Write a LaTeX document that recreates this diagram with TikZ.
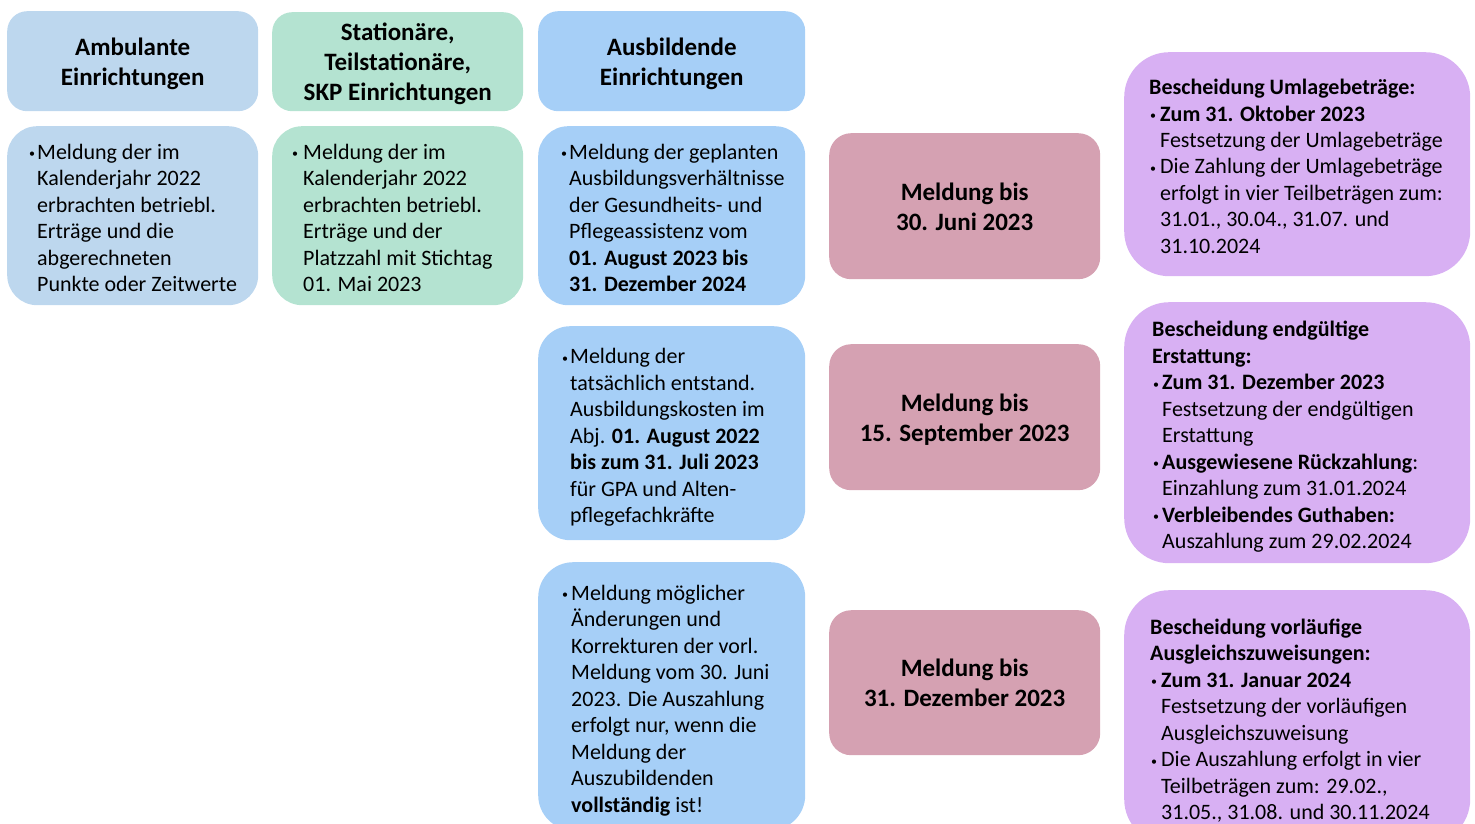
\documentclass[tikz,border=0pt]{standalone}
\usepackage{fontspec}
\setmainfont{Carlito}
\definecolor{cA}{HTML}{BDD7EE}
\definecolor{cB}{HTML}{B4E3D1}
\definecolor{cC}{HTML}{A6CFF7}
\definecolor{cP}{HTML}{D5A1B2}
\definecolor{cV}{HTML}{D8B0F3}
\newcommand\bul[1]{\makebox[#1][l]{\raisebox{1.5pt}{\fontsize{12}{12}\selectfont\textbullet}}}
\newcommand\bodyfnt{\fontsize{22}{26.5}\selectfont}
\newcommand\headfnt{\fontsize{25}{30}\selectfont\bfseries}
\begin{document}
\begin{tikzpicture}[x=1pt,y=-1pt,
  boxbase/.style={draw=none, inner sep=0pt, anchor=north west},
  txt/.style={inner sep=0pt, anchor=west, text=black, font=\bodyfnt, yshift=-4.5pt},
  ctxt/.style={inner sep=0pt, anchor=center, text=black, font=\headfnt, yshift=-3pt}
]
\clip (0,0) rectangle (1475,824);
% header boxes
\node[boxbase, fill=cA, rounded corners=20pt, minimum width=251pt, minimum height=100pt] (ah) at (7,11) {};
\node[boxbase, fill=cB, rounded corners=20pt, minimum width=251pt, minimum height=99pt] (bh) at (272,12) {};
\node[boxbase, fill=cC, rounded corners=20pt, minimum width=267pt, minimum height=100pt] (ch) at (538,11) {};
\node[ctxt] (aht) at (ah.center) {\begin{tabular}{@{}c@{}}Ambulante\\Einrichtungen\end{tabular}};
\node[ctxt] (bht) at (bh.center) {\begin{tabular}{@{}c@{}}Stationäre,\\Teilstationäre,\\SKP Einrichtungen\end{tabular}};
\node[ctxt] (cht) at (ch.center) {\begin{tabular}{@{}c@{}}Ausbildende\\Einrichtungen\end{tabular}};
% body boxes
\node[boxbase, fill=cA, rounded corners=30pt, minimum width=251pt, minimum height=179pt] (ab) at (7,126) {};
\node[boxbase, fill=cB, rounded corners=30pt, minimum width=251pt, minimum height=179pt] (bb) at (272,126) {};
\node[boxbase, fill=cC, rounded corners=30pt, minimum width=267pt, minimum height=179pt] (c1) at (538,126) {};
\node[boxbase, fill=cC, rounded corners=32pt, minimum width=267pt, minimum height=214pt] (c2) at (538,326) {};
\node[boxbase, fill=cC, rounded corners=35pt, minimum width=267pt, minimum height=268pt] (c3) at (538,562) {};
\node[txt] (abt) at ([xshift=22pt]ab.west) {\begin{tabular}{@{}l@{}l@{}}
\bul{8pt}&Meldung der im\\
&Kalenderjahr 2022\\
&erbrachten betriebl.\\
&Erträge und die\\
&abgerechneten\\
&Punkte oder Zeitwerte
\end{tabular}};
\node[txt] (bbt) at ([xshift=20pt]bb.west) {\begin{tabular}{@{}l@{}l@{}}
\bul{11pt}&Meldung der im\\
&Kalenderjahr 2022\\
&erbrachten betriebl.\\
&Erträge und der\\
&Platzzahl mit Stichtag\\
&01. Mai 2023
\end{tabular}};
\node[txt] (c1t) at ([xshift=23pt]c1.west) {\begin{tabular}{@{}l@{}l@{}}
\bul{8pt}&Meldung der geplanten\\
&Ausbildungsverhältnisse\\
&der Gesundheits- und\\
&Pflegeassistenz vom\\
&\textbf{01. August 2023 bis}\\
&\textbf{31. Dezember 2024}
\end{tabular}};
\node[txt] (c2t) at ([xshift=24pt]c2.west) {\begin{tabular}{@{}l@{}l@{}}
\bul{8pt}&Meldung der\\
&tatsächlich entstand.\\
&Ausbildungskosten im\\
&Abj. \textbf{01. August 2022}\\
&\textbf{bis zum 31. Juli 2023}\\
&für GPA und Alten-\\
&pflegefachkräfte
\end{tabular}};
\node[txt] (c3t) at ([xshift=24pt]c3.west) {\begin{tabular}{@{}l@{}l@{}}
\bul{9pt}&Meldung möglicher\\
&Änderungen und\\
&Korrekturen der vorl.\\
&Meldung vom 30. Juni\\
&2023. Die Auszahlung\\
&erfolgt nur, wenn die\\
&Meldung der\\
&Auszubildenden\\
&\textbf{vollständig} ist!
\end{tabular}};
% deadline boxes
\node[boxbase, fill=cP, rounded corners=22pt, minimum width=271pt, minimum height=146pt] (p1) at (829,133) {};
\node[boxbase, fill=cP, rounded corners=22pt, minimum width=271pt, minimum height=146pt] (p2) at (829,344) {};
\node[boxbase, fill=cP, rounded corners=22pt, minimum width=271pt, minimum height=145pt] (p3) at (829,610) {};
\node[ctxt] (p1t) at (p1.center) {\begin{tabular}{@{}c@{}}Meldung bis\\30. Juni 2023\end{tabular}};
\node[ctxt] (p2t) at (p2.center) {\begin{tabular}{@{}c@{}}Meldung bis\\15. September 2023\end{tabular}};
\node[ctxt] (p3t) at (p3.center) {\begin{tabular}{@{}c@{}}Meldung bis\\31. Dezember 2023\end{tabular}};
% decision boxes
\node[boxbase, fill=cV, rounded corners=45pt, minimum width=346pt, minimum height=224pt] (v1) at (1124,52) {};
\node[boxbase, fill=cV, rounded corners=45pt, minimum width=346pt, minimum height=261pt] (v2) at (1124,302) {};
\node[boxbase, fill=cV, rounded corners=45pt, minimum width=346pt, minimum height=254pt] (v3) at (1124,590) {};
\node[txt] (v1t) at ([xshift=25pt]v1.west) {\begin{tabular}{@{}l@{}l@{}}
\multicolumn{2}{@{}l@{}}{\textbf{Bescheidung Umlagebeträge:}}\\
\hspace{1pt}\bul{10pt}&\textbf{Zum 31. Oktober 2023}\\
&Festsetzung der Umlagebeträge\\
\hspace{1pt}\bul{10pt}&Die Zahlung der Umlagebeträge\\
&erfolgt in vier Teilbeträgen zum:\\
&31.01., 30.04., 31.07. und\\
&31.10.2024
\end{tabular}};
\node[txt] (v2t) at ([xshift=28pt]v2.west) {\begin{tabular}{@{}l@{}l@{}}
\multicolumn{2}{@{}l@{}}{\textbf{Bescheidung endgültige}}\\
\multicolumn{2}{@{}l@{}}{\textbf{Erstattung:}}\\
\hspace{1pt}\bul{9pt}&\textbf{Zum 31. Dezember 2023}\\
&Festsetzung der endgültigen\\
&Erstattung\\
\hspace{1pt}\bul{9pt}&\textbf{Ausgewiesene Rückzahlung}:\\
&Einzahlung zum 31.01.2024\\
\hspace{1pt}\bul{9pt}&\textbf{Verbleibendes Guthaben:}\\
&Auszahlung zum 29.02.2024
\end{tabular}};
\node[txt] (v3t) at ([xshift=26pt]v3.west) {\begin{tabular}{@{}l@{}l@{}}
\multicolumn{2}{@{}l@{}}{\textbf{Bescheidung vorläufige}}\\
\multicolumn{2}{@{}l@{}}{\textbf{Ausgleichszuweisungen:}}\\
\hspace{1pt}\bul{10pt}&\textbf{Zum 31. Januar 2024}\\
&Festsetzung der vorläufigen\\
&Ausgleichszuweisung\\
\hspace{1pt}\bul{10pt}&Die Auszahlung erfolgt in vier\\
&Teilbeträgen zum: 29.02.,\\
&31.05., 31.08. und 30.11.2024
\end{tabular}};
\end{tikzpicture}
\end{document}
